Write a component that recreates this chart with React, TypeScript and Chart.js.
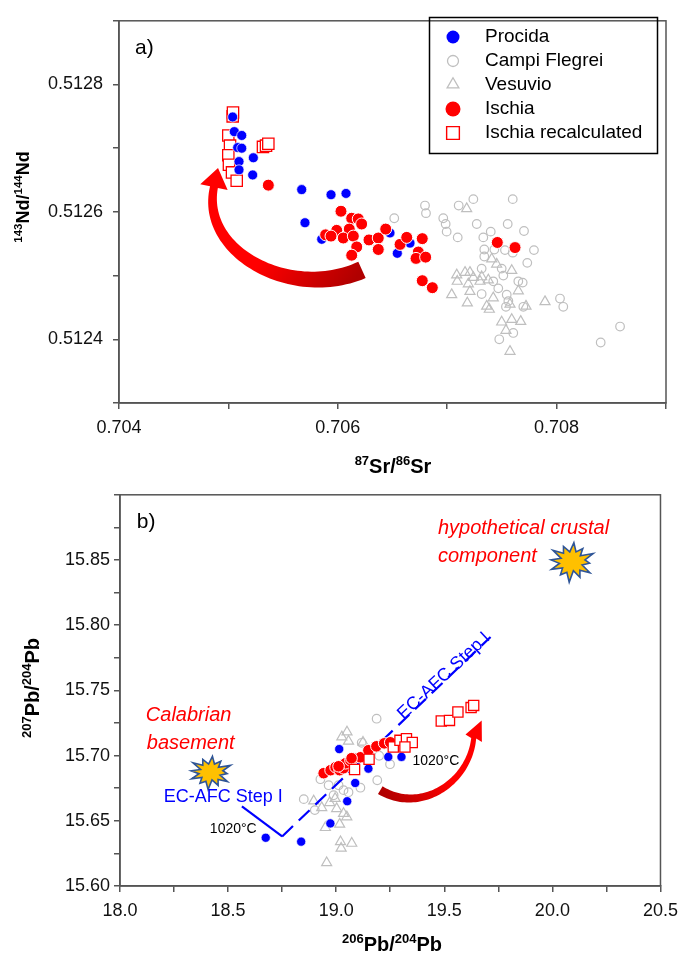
import React, { useEffect, useRef } from 'react';
import { Chart, registerables } from 'chart.js';
import { drawPoint } from 'chart.js/helpers';

Chart.register(...registerables);

const FONT = "'Liberation Sans', Arial, Helvetica, sans-serif";
Chart.defaults.font.family = FONT;

const AXIS = '#555555';
const BLUE = '#0000FF';
const RED = '#FF0000';
const GRAY = '#BFBFBF';
const NONE = 'rgba(0,0,0,0)';

// ---------------- Panel a: 87Sr/86Sr vs 143Nd/144Nd ----------------
const procidaSrNd: [number, number][] = [
  [0.705039, 0.512749], [0.705054, 0.512726], [0.705122, 0.51272], [0.705085, 0.512701],
  [0.705122, 0.5127], [0.705097, 0.512679], [0.705097, 0.512666], [0.705228, 0.512685],
  [0.705222, 0.512658], [0.70567, 0.512635], [0.705938, 0.512627], [0.706075, 0.512629],
  [0.7057, 0.512583], [0.705853, 0.512557], [0.706477, 0.512567], [0.706544, 0.512535],
  [0.70666, 0.512551],
];
const campiFlegreiSrNd: [number, number][] = [
  [0.707239, 0.51262], [0.707599, 0.51262], [0.706797, 0.51261], [0.706806, 0.512598],
  [0.707105, 0.51261], [0.706516, 0.51259], [0.706964, 0.51259], [0.706986, 0.512581],
  [0.706995, 0.512569], [0.707096, 0.51256], [0.70727, 0.512581], [0.707553, 0.512581],
  [0.707702, 0.51257], [0.707398, 0.512569], [0.70733, 0.51256], [0.707793, 0.51254],
  [0.707732, 0.51252], [0.707339, 0.512541], [0.707431, 0.512541], [0.707528, 0.51254],
  [0.707599, 0.512536], [0.707339, 0.51253], [0.707315, 0.512511], [0.707498, 0.512511],
  [0.707513, 0.5125], [0.707421, 0.512491], [0.70765, 0.512491], [0.70769, 0.512489],
  [0.707467, 0.51248], [0.707315, 0.512471], [0.707544, 0.51247], [0.707559, 0.51246],
  [0.707537, 0.512451], [0.708031, 0.512464], [0.708061, 0.512451], [0.707696, 0.512451],
  [0.707604, 0.51241], [0.707476, 0.5124], [0.708403, 0.512395], [0.70858, 0.51242],
];
const vesuvioSrNd: [number, number][] = [
  [0.707178, 0.512605], [0.707407, 0.512526], [0.707452, 0.512518], [0.70759, 0.512508],
  [0.707087, 0.512501], [0.707163, 0.512505], [0.707208, 0.512505], [0.707239, 0.512497],
  [0.707315, 0.512498], [0.707092, 0.512491], [0.707193, 0.512487], [0.7073, 0.512491],
  [0.707376, 0.512493], [0.707208, 0.512475], [0.707041, 0.51247], [0.707184, 0.512457],
  [0.707421, 0.512465], [0.707361, 0.512452], [0.707385, 0.512447], [0.707574, 0.512455],
  [0.70765, 0.512476], [0.70772, 0.512452], [0.707894, 0.512459], [0.707498, 0.512427],
  [0.70759, 0.512431], [0.707672, 0.512428], [0.707537, 0.512414], [0.707574, 0.512381],
];
const ischiaSrNd: [number, number][] = [
  [0.705365, 0.512642], [0.706029, 0.512601], [0.706127, 0.51259], [0.706187, 0.512589],
  [0.706218, 0.512581], [0.705889, 0.512564], [0.70599, 0.512571], [0.706105, 0.512573],
  [0.70605, 0.512559], [0.706142, 0.512562], [0.706173, 0.512545], [0.706127, 0.512532],
  [0.706285, 0.512556], [0.70637, 0.512559], [0.706438, 0.512573], [0.70637, 0.512541],
  [0.706569, 0.512549], [0.70663, 0.51256], [0.706772, 0.512558], [0.706736, 0.512537],
  [0.706715, 0.512527], [0.706803, 0.512529], [0.706772, 0.512492], [0.706864, 0.512481],
  [0.707458, 0.512552], [0.70762, 0.512544], [0.705938, 0.512562],
];
const ischiaRecalcSrNd: [number, number][] = [
  [0.705039, 0.51275], [0.705042, 0.512756], [0.704999, 0.51272], [0.705015, 0.512704],
  [0.704999, 0.512689], [0.705005, 0.512674], [0.705033, 0.512662], [0.705076, 0.512649],
  [0.705316, 0.512702], [0.705344, 0.512704], [0.705365, 0.512707],
];
// curved arrow of panel a: tail, two control points, head base, tip (data units)
const arrowSrNd: [number, number][] = [
  [0.706221, 0.512509], [0.705581, 0.51246], [0.70474, 0.512536], [0.704868, 0.512639], [0.704905, 0.512669],
];

// ---------------- Panel b: 206Pb/204Pb vs 207Pb/204Pb ----------------
const procidaPb: [number, number][] = [
  [18.674, 15.637], [18.838, 15.634], [18.973, 15.648], [19.051, 15.665], [19.088, 15.679],
  [19.149, 15.69], [19.014, 15.705], [19.241, 15.699], [19.302, 15.699],
];
const campiFlegreiPb: [number, number][] = [
  [19.187, 15.7283], [19.118, 15.7098], [19.199, 15.6999], [19.249, 15.6934], [19.19, 15.6811],
  [18.927, 15.6819], [18.965, 15.6773], [19.034, 15.6735], [19.112, 15.6754], [18.85, 15.6666],
  [18.901, 15.6582], [18.988, 15.6696], [19.057, 15.6719], [19.011, 15.6773],
];
const vesuvioPb: [number, number][] = [
  [19.05, 15.7181], [19.057, 15.711], [19.026, 15.7143], [19.124, 15.7102], [18.896, 15.6652],
  [18.933, 15.6601], [18.97, 15.6639], [18.995, 15.6671], [19.002, 15.6593], [19.034, 15.6556],
  [19.049, 15.653], [19.016, 15.6474], [18.95, 15.6448], [19.02, 15.6339], [19.023, 15.6289],
  [19.072, 15.6327], [18.956, 15.6178],
];
const ischiaPb: [number, number][] = [
  [18.942, 15.6865], [18.974, 15.6888], [18.997, 15.6911], [19.016, 15.6888], [19.034, 15.6903],
  [19.043, 15.6941], [19.066, 15.6964], [19.08, 15.698], [19.112, 15.6987], [19.149, 15.7041],
  [19.186, 15.7071], [19.222, 15.7094], [19.25, 15.7102], [19.011, 15.6918], [19.071, 15.698],
];
const ischiaRecalcPb: [number, number][] = [
  [19.085, 15.6893], [19.152, 15.6972], [19.264, 15.7066], [19.295, 15.7117], [19.325, 15.7129],
  [19.352, 15.71], [19.318, 15.7066], [19.486, 15.7265], [19.524, 15.727], [19.563, 15.7334],
  [19.624, 15.7368], [19.636, 15.7385],
];
const ecAfcSolidPb: [number, number][] = [[18.564, 15.661], [18.75, 15.638]];
const ecAfcDashedPb: [number, number][] = [[18.75, 15.638], [19.714, 15.791]];
const arrowPb: [number, number][] = [
  [19.204, 15.6735], [19.388, 15.6551], [19.615, 15.6788], [19.636, 15.7133], [19.673, 15.727],
];
const burstsPb: [number, number][] = [[18.418, 15.6872], [20.089, 15.8487]];

const toXY = (arr: [number, number][]) => arr.map(([x, y]) => ({ x, y }));

// ---------------- drawing helpers ----------------
type P = { x: number; y: number };

function drawArrow(ctx: CanvasRenderingContext2D, p: P[], w0: number, w1: number, headHalf: number, c0: string, c1: string) {
  const [p0, p1, p2, p3, tip] = p;
  const N = 60;
  const L: number[][] = [];
  const R: number[][] = [];
  for (let i = 0; i <= N; i++) {
    const t = i / N, m = 1 - t;
    const x = m * m * m * p0.x + 3 * m * m * t * p1.x + 3 * m * t * t * p2.x + t * t * t * p3.x;
    const y = m * m * m * p0.y + 3 * m * m * t * p1.y + 3 * m * t * t * p2.y + t * t * t * p3.y;
    const dx = 3 * m * m * (p1.x - p0.x) + 6 * m * t * (p2.x - p1.x) + 3 * t * t * (p3.x - p2.x);
    const dy = 3 * m * m * (p1.y - p0.y) + 6 * m * t * (p2.y - p1.y) + 3 * t * t * (p3.y - p2.y);
    const len = Math.hypot(dx, dy) || 1;
    const nx = -dy / len, ny = dx / len;
    const w = (w0 + (w1 - w0) * t) / 2;
    L.push([x + nx * w, y + ny * w]);
    R.push([x - nx * w, y - ny * w]);
  }
  const hx = tip.x - p3.x, hy = tip.y - p3.y;
  const hl = Math.hypot(hx, hy) || 1;
  const nx = -hy / hl, ny = hx / hl;
  ctx.save();
  const g = ctx.createLinearGradient(p0.x, p0.y, tip.x, tip.y);
  g.addColorStop(0, c0);
  g.addColorStop(0.5, c1);
  g.addColorStop(1, c1);
  ctx.fillStyle = g;
  ctx.beginPath();
  ctx.moveTo(L[0][0], L[0][1]);
  for (const q of L) ctx.lineTo(q[0], q[1]);
  ctx.lineTo(p3.x + nx * headHalf, p3.y + ny * headHalf);
  ctx.lineTo(tip.x, tip.y);
  ctx.lineTo(p3.x - nx * headHalf, p3.y - ny * headHalf);
  for (let i = R.length - 1; i >= 0; i--) ctx.lineTo(R[i][0], R[i][1]);
  ctx.closePath();
  ctx.fill();
  ctx.restore();
}

const BURST = [1, 0.55, 0.85, 0.5, 1.05, 0.6, 0.8, 0.5, 1, 0.58, 0.9, 0.48, 1.08, 0.6, 0.85, 0.52, 0.98, 0.55, 0.92, 0.5, 1.02, 0.57, 0.88, 0.52];
function drawBurst(ctx: CanvasRenderingContext2D, cx: number, cy: number, rx: number, ry: number) {
  ctx.save();
  ctx.beginPath();
  BURST.forEach((r, i) => {
    const a = -Math.PI / 2 + (i * 2 * Math.PI) / BURST.length + 0.1;
    const x = cx + Math.cos(a) * rx * r;
    const y = cy + Math.sin(a) * ry * r;
    if (i === 0) ctx.moveTo(x, y);
    else ctx.lineTo(x, y);
  });
  ctx.closePath();
  ctx.fillStyle = '#FFC000';
  ctx.fill();
  ctx.lineJoin = 'miter';
  ctx.lineWidth = 1.6;
  ctx.strokeStyle = '#2F5597';
  ctx.stroke();
  ctx.restore();
}

type Part = [string, boolean];
function drawRich(ctx: CanvasRenderingContext2D, parts: Part[], cx: number, cy: number, size: number, sup: number, vertical: boolean) {
  ctx.save();
  ctx.translate(cx, cy);
  if (vertical) ctx.rotate(-Math.PI / 2);
  let total = 0;
  const widths = parts.map(([t, s]) => {
    ctx.font = `bold ${s ? sup : size}px ${FONT}`;
    const w = ctx.measureText(t).width;
    total += w;
    return w;
  });
  let x = -total / 2;
  ctx.fillStyle = '#000';
  ctx.textAlign = 'left';
  ctx.textBaseline = 'alphabetic';
  parts.forEach(([t, s], i) => {
    ctx.font = `bold ${s ? sup : size}px ${FONT}`;
    ctx.fillText(t, x, s ? size * 0.36 - size * 0.42 : size * 0.36);
    x += widths[i];
  });
  ctx.restore();
}

function drawText(ctx: CanvasRenderingContext2D, text: string, x: number, y: number, font: string, color: string, align: CanvasTextAlign, angle = 0) {
  ctx.save();
  ctx.translate(x, y);
  if (angle) ctx.rotate((angle * Math.PI) / 180);
  ctx.font = font;
  ctx.fillStyle = color;
  ctx.textAlign = align;
  ctx.textBaseline = 'middle';
  ctx.fillText(text, 0, 0);
  ctx.restore();
}

function frame(chart: any) {
  const { ctx, chartArea: a } = chart;
  ctx.save();
  ctx.strokeStyle = AXIS;
  ctx.lineWidth = 1.5;
  ctx.strokeRect(a.left, a.top, a.right - a.left, a.bottom - a.top);
  ctx.restore();
}

function axis(min: number, max: number, step: number, label: (v: number) => string, fit: number, isX: boolean, padding: number) {
  return {
    type: 'linear',
    min,
    max,
    ticks: {
      stepSize: step,
      autoSkip: false,
      maxRotation: 0,
      padding,
      color: '#111',
      font: { size: 18, family: FONT },
      callback: (v: any) => label(Number(v)),
    },
    grid: {
      drawOnChartArea: false,
      drawTicks: true,
      tickLength: 6,
      tickWidth: 1.5,
      tickColor: AXIS,
      color: AXIS,
      lineWidth: 1.5,
    },
    border: { display: true, color: AXIS, width: 1.5 },
    afterFit: (s: any) => {
      if (isX) s.height = fit;
      else s.width = fit;
    },
  };
}

const legendRows = [
  { label: 'Procida', style: 'circle', r: 6.5, fill: BLUE, stroke: BLUE, bw: 0 },
  { label: 'Campi Flegrei', style: 'circle', r: 5.5, fill: NONE, stroke: GRAY, bw: 1.3 },
  { label: 'Vesuvio', style: 'triangle', r: 6.8, fill: NONE, stroke: GRAY, bw: 1.3 },
  { label: 'Ischia', style: 'circle', r: 7.5, fill: RED, stroke: RED, bw: 0 },
  { label: 'Ischia recalculated', style: 'rect', r: 9, fill: '#fff', stroke: RED, bw: 1.4 },
];

const panelAPlugin = {
  id: 'panelA',
  beforeDatasetsDraw(chart: any) {
    const { ctx, scales } = chart;
    const pts = arrowSrNd.map(([x, y]) => ({ x: scales.x.getPixelForValue(x), y: scales.y.getPixelForValue(y) }));
    drawArrow(ctx, pts, 18, 8, 14, '#B00000', '#FF0000');
  },
  afterDraw(chart: any) {
    const { ctx, scales } = chart;
    frame(chart);
    // legend
    ctx.save();
    ctx.strokeStyle = '#000';
    ctx.lineWidth = 1.5;
    ctx.strokeRect(429.5, 17.5, 228, 136);
    const rowsY = [37, 61, 84.5, 109, 133];
    legendRows.forEach((row, i) => {
      ctx.fillStyle = row.fill;
      ctx.strokeStyle = row.stroke;
      ctx.lineWidth = row.bw;
      drawPoint(ctx, { pointStyle: row.style as any, radius: row.r, borderWidth: row.bw, rotation: 0 } as any, 453, rowsY[i]);
      drawText(ctx, row.label, 485, rowsY[i], `19px ${FONT}`, '#000', 'left');
    });
    ctx.restore();
    drawText(ctx, 'a)', scales.x.getPixelForValue(0.704146), scales.y.getPixelForValue(0.512857), `21px ${FONT}`, '#000', 'left');
    drawRich(ctx, [['143', true], ['Nd/', false], ['144', true], ['Nd', false]], 23, 197, 18, 11.5, true);
    drawRich(ctx, [['87', true], ['Sr/', false], ['86', true], ['Sr', false]], 393, 466, 20, 13, false);
  },
};

const labelsPb = [
  { text: 'Calabrian', x: 18.1195, y: 15.7309, font: `italic 20px ${FONT}`, color: RED, align: 'left', angle: 0 },
  { text: 'basement', x: 18.124, y: 15.7094, font: `italic 20px ${FONT}`, color: RED, align: 'left', angle: 0 },
  { text: 'hypothetical crustal', x: 19.4706, y: 15.874, font: `italic 20px ${FONT}`, color: RED, align: 'left', angle: 0 },
  { text: 'component', x: 19.4706, y: 15.8525, font: `italic 20px ${FONT}`, color: RED, align: 'left', angle: 0 },
  { text: 'EC-AFC Step I', x: 18.478, y: 15.668, font: `18px ${FONT}`, color: BLUE, align: 'center', angle: 0 },
  { text: 'EC-AFC Step I', x: 19.498, y: 15.761, font: `18px ${FONT}`, color: BLUE, align: 'center', angle: -43 },
  { text: '1020°C', x: 18.524, y: 15.6436, font: `14px ${FONT}`, color: '#000', align: 'center', angle: 0 },
  { text: '1020°C', x: 19.461, y: 15.6957, font: `14px ${FONT}`, color: '#000', align: 'center', angle: 0 },
];

const panelBPlugin = {
  id: 'panelB',
  beforeDatasetsDraw(chart: any) {
    const { ctx, scales } = chart;
    const pts = arrowPb.map(([x, y]) => ({ x: scales.x.getPixelForValue(x), y: scales.y.getPixelForValue(y) }));
    drawArrow(ctx, pts, 9, 5, 9, '#B00000', '#FF0000');
  },
  afterDatasetsDraw(chart: any) {
    const { ctx, scales } = chart;
    const sizes = [[21, 16], [22.5, 19]];
    burstsPb.forEach(([x, y], i) => drawBurst(ctx, scales.x.getPixelForValue(x), scales.y.getPixelForValue(y), sizes[i][0], sizes[i][1]));
    labelsPb.forEach((l) =>
      drawText(ctx, l.text, scales.x.getPixelForValue(l.x), scales.y.getPixelForValue(l.y), l.font, l.color, l.align as CanvasTextAlign, l.angle)
    );
  },
  afterDraw(chart: any) {
    const { ctx, scales } = chart;
    frame(chart);
    drawText(ctx, 'b)', scales.x.getPixelForValue(18.078), scales.y.getPixelForValue(15.8793), `21px ${FONT}`, '#000', 'left');
    drawRich(ctx, [['207', true], ['Pb/', false], ['204', true], ['Pb', false]], 32, 208, 20, 13, true);
    drawRich(ctx, [['206', true], ['Pb/', false], ['204', true], ['Pb', false]], 392, 464, 20, 13, false);
  },
};

function commonOptions() {
  return {
    responsive: false,
    animation: false,
    events: [],
    plugins: { legend: { display: false }, tooltip: { enabled: false } },
  };
}

export default function App() {
  const refA = useRef<HTMLCanvasElement>(null);
  const refB = useRef<HTMLCanvasElement>(null);

  useEffect(() => {
    document.body.style.margin = '0';
    const chartA = new Chart(refA.current as HTMLCanvasElement, {
      type: 'scatter',
      data: {
        datasets: [
          { label: 'Procida', data: toXY(procidaSrNd), pointStyle: 'circle', pointRadius: 5, pointBackgroundColor: BLUE, pointBorderColor: '#fff', pointBorderWidth: 0.7, order: 1 },
          { label: 'Campi Flegrei', data: toXY(campiFlegreiSrNd), pointStyle: 'circle', pointRadius: 4.3, pointBackgroundColor: NONE, pointBorderColor: GRAY, pointBorderWidth: 1.2, order: 4 },
          { label: 'Vesuvio', data: toXY(vesuvioSrNd), pointStyle: 'triangle', pointRadius: 5.8, pointBackgroundColor: NONE, pointBorderColor: GRAY, pointBorderWidth: 1.2, order: 3 },
          { label: 'Ischia', data: toXY(ischiaSrNd), pointStyle: 'circle', pointRadius: 6, pointBackgroundColor: RED, pointBorderColor: '#fff', pointBorderWidth: 1, order: 0 },
          { label: 'Ischia recalculated', data: toXY(ischiaRecalcSrNd), pointStyle: 'rect', pointRadius: 8, pointBackgroundColor: '#fff', pointBorderColor: RED, pointBorderWidth: 1.3, order: 2 },
        ],
      } as any,
      options: {
        ...commonOptions(),
        layout: { padding: { top: 13, right: 20, left: 0, bottom: 0 } },
        scales: {
          x: axis(0.704, 0.709, 0.001, (v) => (Math.round(v * 1000) % 2 === 0 ? v.toFixed(3) : ''), 77, true, 8),
          y: axis(0.5123, 0.5129, 0.0001, (v) => (Math.round(v * 10000) % 2 === 0 ? v.toFixed(4) : ''), 119, false, 10),
        },
      } as any,
      plugins: [panelAPlugin],
    });

    const chartB = new Chart(refB.current as HTMLCanvasElement, {
      type: 'scatter',
      data: {
        datasets: [
          { label: 'Ischia recalculated', data: toXY(ischiaRecalcPb), pointStyle: 'rect', pointRadius: 7.2, pointBackgroundColor: '#fff', pointBorderColor: RED, pointBorderWidth: 1.3, order: 0 },
          { label: 'Ischia', data: toXY(ischiaPb), pointStyle: 'circle', pointRadius: 5.8, pointBackgroundColor: RED, pointBorderColor: '#fff', pointBorderWidth: 1, order: 1 },
          { label: 'Procida', data: toXY(procidaPb), pointStyle: 'circle', pointRadius: 4.6, pointBackgroundColor: BLUE, pointBorderColor: '#fff', pointBorderWidth: 0.7, order: 2 },
          { label: 'EC-AFC Step I', data: toXY(ecAfcSolidPb), showLine: true, pointRadius: 0, borderColor: BLUE, borderWidth: 2.2, order: 3 },
          { label: 'EC-AFC Step I dashed', data: toXY(ecAfcDashedPb), showLine: true, pointRadius: 0, borderColor: BLUE, borderWidth: 2.2, borderDash: [15, 8], order: 3 },
          { label: 'Vesuvio', data: toXY(vesuvioPb), pointStyle: 'triangle', pointRadius: 5.8, pointBackgroundColor: NONE, pointBorderColor: GRAY, pointBorderWidth: 1.2, order: 4 },
          { label: 'Campi Flegrei', data: toXY(campiFlegreiPb), pointStyle: 'circle', pointRadius: 4.3, pointBackgroundColor: NONE, pointBorderColor: GRAY, pointBorderWidth: 1.2, order: 5 },
        ],
      } as any,
      options: {
        ...commonOptions(),
        layout: { padding: { top: 14, right: 22, left: 0, bottom: 0 } },
        scales: {
          x: axis(18, 20.5, 0.25, (v) => (Math.round(v * 4) % 2 === 0 ? v.toFixed(1) : ''), 73, true, 8),
          y: axis(15.6, 15.9, 0.025, (v) => {
            const r = Math.round(v * 40);
            return r % 2 === 0 && r !== 636 ? v.toFixed(2) : '';
          }, 120, false, 4),
        },
      } as any,
      plugins: [panelBPlugin],
    });

    return () => {
      chartA.destroy();
      chartB.destroy();
    };
  }, []);

  return (
    <div style={{ position: 'relative', width: 686, height: 959, background: '#fff' }}>
      <canvas ref={refA} width={686} height={480} style={{ position: 'absolute', left: 0, top: 0, width: 686, height: 480 }} />
      <canvas ref={refB} width={686} height={479} style={{ position: 'absolute', left: 0, top: 480, width: 686, height: 479 }} />
    </div>
  );
}
